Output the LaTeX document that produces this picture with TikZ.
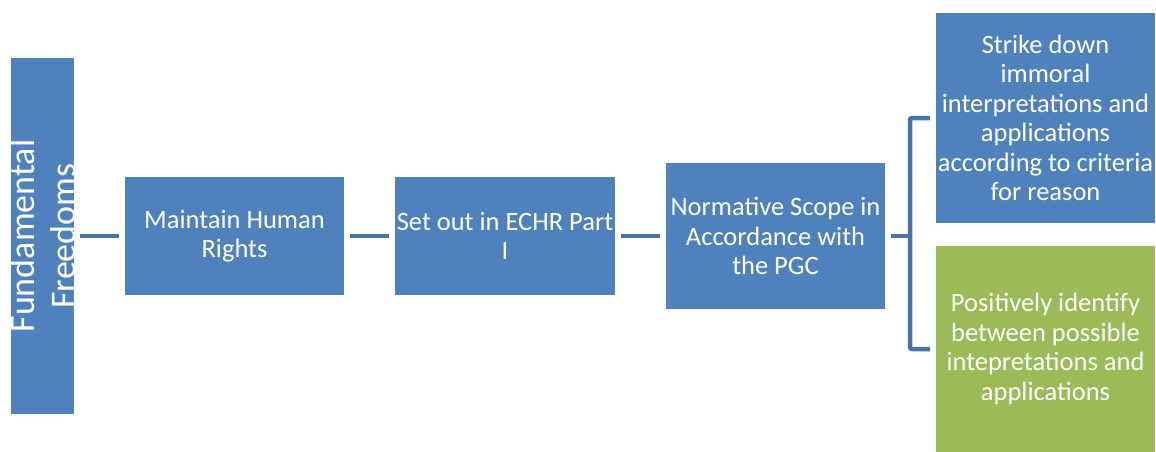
\documentclass[tikz,border=0pt]{standalone}
\usepackage{fontspec}
\setmainfont{Carlito}
\definecolor{boxblue}{HTML}{4F81BD}
\definecolor{boxgreen}{HTML}{9BBB59}
\definecolor{connblue}{HTML}{4672A8}
\tikzset{
  bx/.style={rectangle, fill=boxblue, text=white, inner sep=0pt, align=center,
    font=\fontsize{26.5}{29.5}\selectfont},
  gbx/.style={bx, fill=boxgreen},
  conn/.style={draw=connblue, line width=4.5pt},
}
\begin{document}
\begin{tikzpicture}[x=1pt,y=-1pt]
\useasboundingbox (0,0) rectangle (1156,452);
\node[bx, minimum width=63pt, minimum height=356pt] (ff) at (42.5,236) {};
\node[text=white, rotate=90, align=center, inner sep=0pt,
  font=\fontsize{36}{41}\selectfont] (fft) at (ff.center) {Fundamental\\Freedoms};
\node[bx, minimum width=219pt, minimum height=118pt] (mhr) at (234.5,236) {Maintain Human\\Rights};
\node[bx, minimum width=220pt, minimum height=118pt] (so) at (505,236) {Set out in ECHR Part\\I};
\node[bx, minimum width=219pt, minimum height=146pt] (norm) at (775.5,236) {Normative Scope in\\Accordance with\\the PGC};
\node[bx, minimum width=219pt, minimum height=210pt] (strike) at (1045.5,118) {Strike down\\immoral\\interpretations and\\applications\\according to criteria\\for reason};
\node[gbx, minimum width=219pt, minimum height=206pt] (green) at (1045.5,349) {Positively identify\\between possible\\intepretations and\\applications};
\coordinate (bk) at (910,236);
\draw[conn, shorten <=6pt, shorten >=6pt] (ff.east) -- (mhr.west);
\draw[conn, shorten <=6pt, shorten >=6pt] (mhr.east) -- (so.west);
\draw[conn, shorten <=6pt, shorten >=6pt] (so.east) -- (norm.west);
\draw[conn, shorten <=6pt] (norm.east) -- (bk);
\draw[conn, rounded corners=2pt, shorten <=6pt, shorten >=6pt] (strike.west) -| (bk) |- (green.west);
\end{tikzpicture}
\end{document}
